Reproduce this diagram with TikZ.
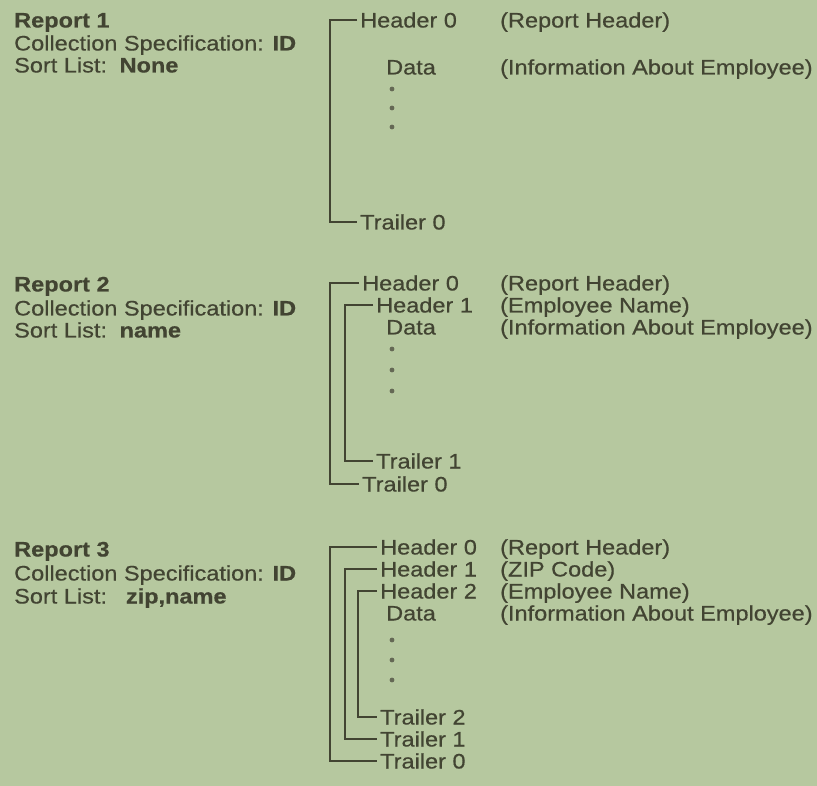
\documentclass[tikz,border=0pt]{standalone}
\usepackage{fontspec}
\setmainfont[FakeStretch=1.12, FakeBold=0.5]{Liberation Sans}
\definecolor{paper}{RGB}{182,200,159}
\definecolor{ink}{RGB}{66,68,50}
\definecolor{dotink}{RGB}{100,104,84}
\begin{document}
\begin{tikzpicture}[x=1pt,y=-1pt,
  txt/.style={anchor=west, inner sep=0pt, text height=15pt, text depth=0pt,
    font=\fontsize{21}{22}\selectfont, text=ink},
  ttl/.style={txt, font=\fontsize{21}{22}\selectfont\bfseries},
  bracket/.style={draw=ink, line width=2.6pt, line cap=butt},
  gap/.style={xshift=-3pt}]
\fill[paper] (0,0) rectangle (817,786);
\useasboundingbox (0,0) rectangle (817,786);

% ---------- Report 1 ----------
\node[ttl] (r1) at (14,20) {Report 1};
\node[txt] (r1c) at (14,43) {Collection Specification: \textbf{ID}};
\node[txt] (r1s) at (14,65) {Sort List:\hspace{0.6em}\textbf{None}};

\node[txt] (a-h0) at (360,20) {Header 0};
\node[txt] (a-d) at (386,67) {Data};
\node[txt] (a-t0) at (360,222) {Trailer 0};
\node[txt] (a-p0) at (500,20) {(Report Header)};
\node[txt] (a-p1) at (500,67) {(Information About Employee)};
\foreach \y in {89,108,127} \fill[dotink] (392,\y) circle (2.4);
\draw[bracket] ([gap]a-h0.west) -- ++(-27,0) |- ([gap]a-t0.west);

% ---------- Report 2 ----------
\node[ttl] (r2) at (14,284) {Report 2};
\node[txt] (r2c) at (14,308) {Collection Specification: \textbf{ID}};
\node[txt] (r2s) at (14,330) {Sort List:\hspace{0.6em}\textbf{name}};

\node[txt] (b-h0) at (362,283) {Header 0};
\node[txt] (b-h1) at (376,305) {Header 1};
\node[txt] (b-d) at (386,327) {Data};
\node[txt] (b-t1) at (376,461) {Trailer 1};
\node[txt] (b-t0) at (362,484) {Trailer 0};
\node[txt] (b-p0) at (500,283) {(Report Header)};
\node[txt] (b-p1) at (500,305) {(Employee Name)};
\node[txt] (b-p2) at (500,327) {(Information About Employee)};
\foreach \y in {349,370,391} \fill[dotink] (392,\y) circle (2.4);
\draw[bracket] ([gap]b-h0.west) -- ++(-29,0) |- ([gap]b-t0.west);
\draw[bracket] ([gap]b-h1.west) -- ++(-28,0) |- ([gap]b-t1.west);

% ---------- Report 3 ----------
\node[ttl] (r3) at (14,549) {Report 3};
\node[txt] (r3c) at (14,573) {Collection Specification: \textbf{ID}};
\node[txt] (r3s) at (14,596) {Sort List:\hspace{0.9em}\textbf{zip,name}};

\node[txt] (c-h0) at (380,547) {Header 0};
\node[txt] (c-h1) at (380,569) {Header 1};
\node[txt] (c-h2) at (380,591) {Header 2};
\node[txt] (c-d) at (386,613) {Data};
\node[txt] (c-t2) at (380,717) {Trailer 2};
\node[txt] (c-t1) at (380,739) {Trailer 1};
\node[txt] (c-t0) at (380,761) {Trailer 0};
\node[txt] (c-p0) at (500,547) {(Report Header)};
\node[txt] (c-p1) at (500,569) {(ZIP Code)};
\node[txt] (c-p2) at (500,591) {(Employee Name)};
\node[txt] (c-p3) at (500,613) {(Information About Employee)};
\foreach \y in {640,660,680} \fill[dotink] (392,\y) circle (2.4);
\draw[bracket] ([gap]c-h0.west) -- ++(-47,0) |- ([gap]c-t0.west);
\draw[bracket] ([gap]c-h1.west) -- ++(-32,0) |- ([gap]c-t1.west);
\draw[bracket] ([gap]c-h2.west) -- ++(-19,0) |- ([gap]c-t2.west);
\end{tikzpicture}
\end{document}
